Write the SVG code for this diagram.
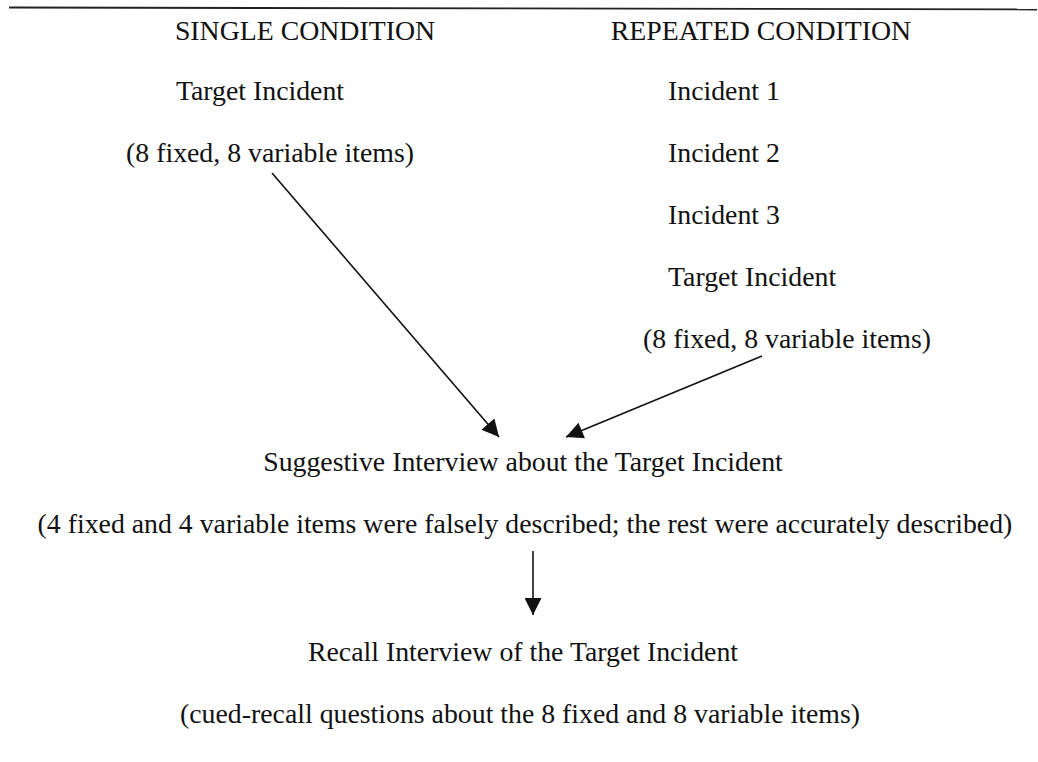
<svg xmlns="http://www.w3.org/2000/svg" width="1038" height="762" viewBox="0 0 1038 762">
<style>
text{font-family:"Liberation Serif","Times New Roman",serif;font-size:27.8px;fill:#111}
.c{text-anchor:middle}
.ln{stroke:#111;stroke-width:1.6;fill:none}
</style>
<defs>
<marker id="ah" viewBox="0 0 10 10" refX="10" refY="5" markerWidth="22" markerHeight="17" markerUnits="userSpaceOnUse" orient="auto">
<path d="M0,0 L10,5 L0,10 Z" fill="#111"/>
</marker>
<marker id="ahv" viewBox="0 0 10 10" refX="10" refY="5" markerWidth="18" markerHeight="17" markerUnits="userSpaceOnUse" orient="auto">
<path d="M0,0 L10,5 L0,10 Z" fill="#111"/>
</marker>
</defs>
<rect width="1038" height="762" fill="#fff"/>
<line x1="9" y1="7.5" x2="1037" y2="9.5" stroke="#222" stroke-width="1.8"/>
<g id="single">
<text class="c" x="305" y="40">SINGLE CONDITION</text>
<text class="c" x="260" y="100">Target Incident</text>
<text class="c" x="270" y="162">(8 fixed, 8 variable items)</text>
</g>
<g id="repeated">
<text class="c" x="761" y="40">REPEATED CONDITION</text>
<text x="668" y="100">Incident 1</text>
<text x="668" y="162">Incident 2</text>
<text x="668" y="224">Incident 3</text>
<text x="668" y="286">Target Incident</text>
<text class="c" x="787" y="348">(8 fixed, 8 variable items)</text>
</g>
<g id="suggestive">
<text class="c" x="523" y="471">Suggestive Interview about the Target Incident</text>
<text class="c" x="525" y="533">(4 fixed and 4 variable items were falsely described; the rest were accurately described)</text>
</g>
<g id="recall">
<text class="c" x="523" y="661">Recall Interview of the Target Incident</text>
<text class="c" x="520" y="723">(cued-recall questions about the 8 fixed and 8 variable items)</text>
</g>
<g id="connectors">
<line class="ln" x1="272" y1="173" x2="499" y2="437" marker-end="url(#ah)"/>
<line class="ln" x1="762" y1="356" x2="566" y2="437" marker-end="url(#ah)"/>
<line class="ln" x1="533" y1="551" x2="533" y2="615" marker-end="url(#ahv)"/>
</g>
</svg>
